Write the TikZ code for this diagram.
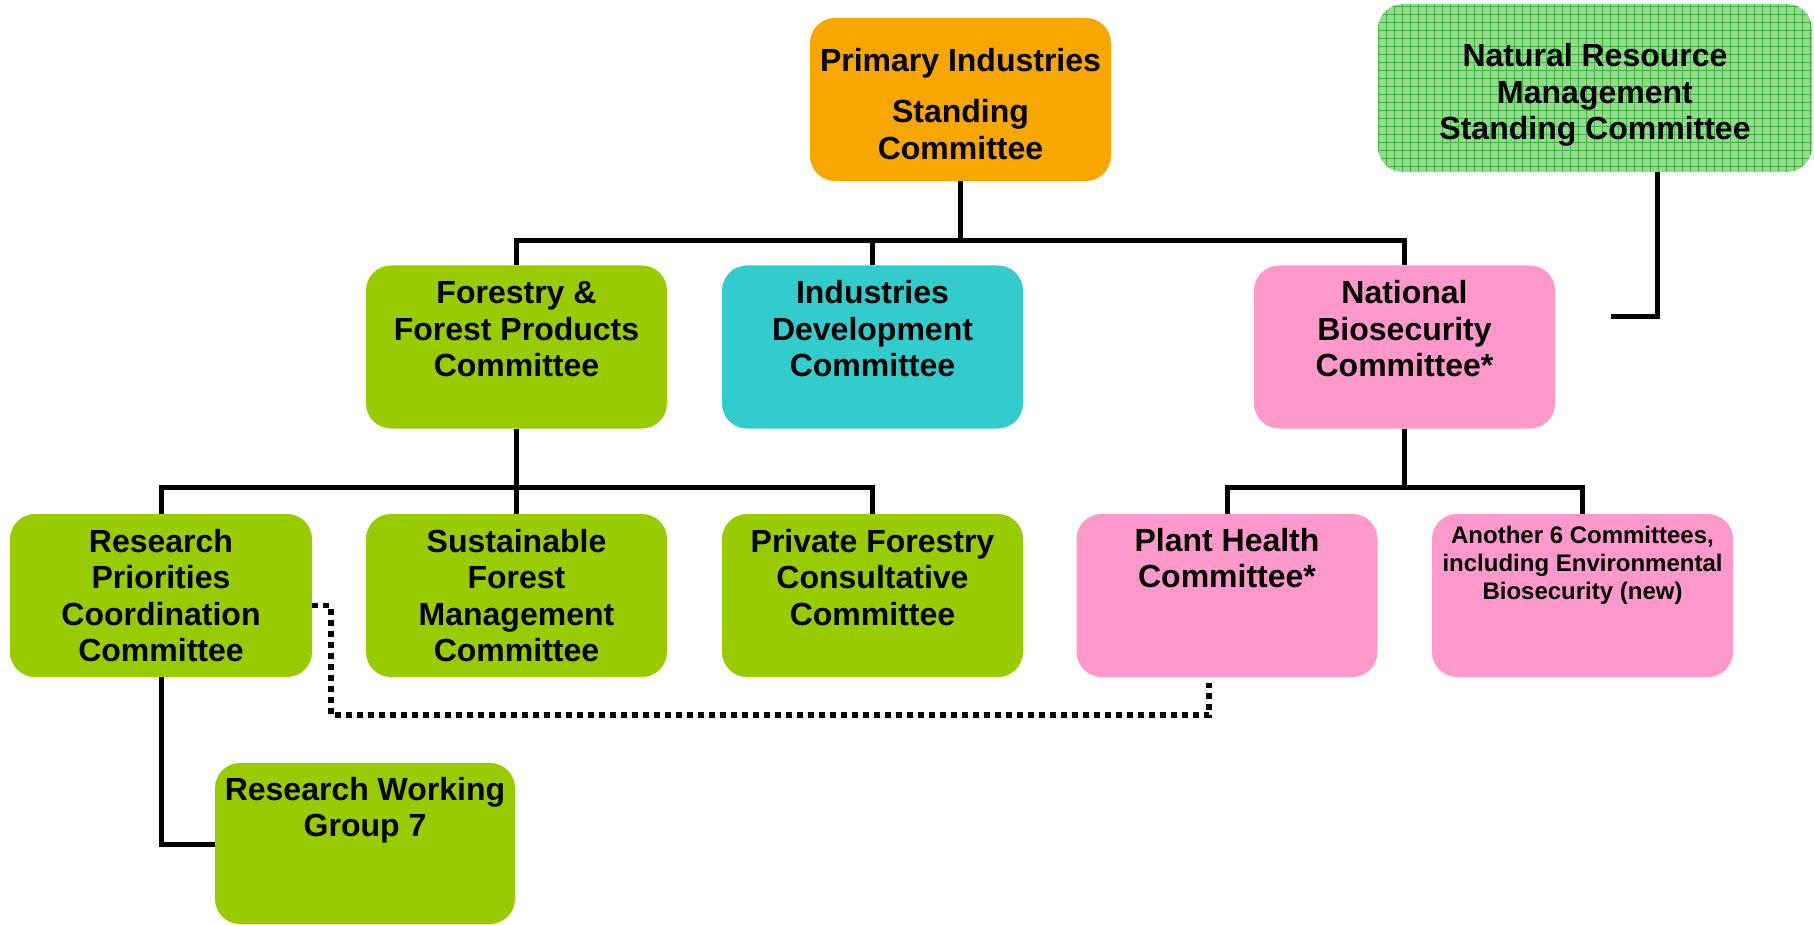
\documentclass[tikz,border=0pt]{standalone}
\usepackage{fontspec}
\setmainfont{Liberation Sans}
\definecolor{cOrange}{RGB}{248,166,0}
\definecolor{cGreen}{RGB}{153,204,0}
\definecolor{cTeal}{RGB}{51,204,204}
\definecolor{cPink}{RGB}{255,153,204}
\definecolor{cNrmFill}{RGB}{150,215,145}
\definecolor{cNrmGrid}{RGB}{60,180,60}
\newcommand{\boxtxt}[4]{\parbox[c][#1][t]{#2}{\centering\rule{0pt}{#3}#4}}
\tikzset{
  orgbox/.style={rounded corners=25pt, inner sep=0pt, outer sep=0pt, draw=none,
    font=\fontsize{32pt}{36.5pt}\selectfont\bfseries},
  smalltext/.style={font=\fontsize{24pt}{28pt}\selectfont\bfseries},
  conn/.style={line width=5pt, black},
  dotconn/.style={line width=5.5pt, black, dash pattern=on 6pt off 5pt},
  gridfill/.style={fill=cNrmFill, path picture={
      \draw[cNrmGrid, line width=0.8pt] (path picture bounding box.south west) grid[step=8pt] (path picture bounding box.north east);}}
}
\begin{document}
\begin{tikzpicture}[x=1pt,y=-1pt]
\useasboundingbox[fill=white] (0,0) rectangle (1814,925);
% nodes
\node[orgbox, fill=cOrange] (psc) at (960.5,99.5)
  {\boxtxt{163pt}{301pt}{54pt}{Primary Industries\\[14.5pt]Standing\\Committee}};
\node[orgbox, gridfill] (nrm) at (1595,88)
  {\boxtxt{168pt}{434pt}{63pt}{Natural Resource\\Management\\Standing Committee}};
\node[orgbox, fill=cGreen] (ffp) at (516.5,347)
  {\boxtxt{163pt}{301pt}{38pt}{Forestry \&\\Forest Products\\Committee}};
\node[orgbox, fill=cTeal] (idc) at (872.5,347)
  {\boxtxt{163pt}{301pt}{38pt}{Industries\\Development\\Committee}};
\node[orgbox, fill=cPink] (nbc) at (1404.5,347)
  {\boxtxt{163pt}{301pt}{38pt}{National\\Biosecurity\\Committee*}};
\node[orgbox, fill=cGreen] (rpc) at (161,595.5)
  {\boxtxt{163pt}{302pt}{38pt}{Research\\Priorities\\Coordination\\Committee}};
\node[orgbox, fill=cGreen] (sfm) at (516.5,595.5)
  {\boxtxt{163pt}{301pt}{38pt}{Sustainable\\Forest\\Management\\Committee}};
\node[orgbox, fill=cGreen] (pfc) at (872.5,595.5)
  {\boxtxt{163pt}{301pt}{38pt}{Private Forestry\\Consultative\\Committee}};
\node[orgbox, fill=cPink] (phc) at (1227,595.5)
  {\boxtxt{163pt}{301pt}{37pt}{Plant Health\\Committee*}};
\node[orgbox, smalltext, fill=cPink] (a6c) at (1582.5,595.5)
  {\boxtxt{163pt}{301pt}{29pt}{Another 6 Committees,\\including Environmental\\Biosecurity (new)}};
\node[orgbox, fill=cGreen] (rwg) at (365,843.5)
  {\boxtxt{161pt}{300pt}{37pt}{Research Working\\Group 7}};
% bus coordinates
\coordinate (b1) at (960.5,241);
\coordinate (b2) at (516.5,487);
\coordinate (b3) at (1404.5,487);
\coordinate (nrmend) at (1611,316);
\coordinate (rwgbend) at (161,844);
\coordinate (dotbot) at (331,715);
% connectors
\draw[conn] (psc.south) -- (b1);
\draw[conn] (ffp.north) |- (b1) -| (nbc.north);
\draw[conn] (idc.north) -- (idc.north |- b1);
\draw[conn] (ffp.south) -- (b2);
\draw[conn] (rpc.north) |- (b2) -| (pfc.north);
\draw[conn] (sfm.north) -- (b2);
\draw[conn] (nbc.south) -- (b3);
\draw[conn] (phc.north) |- (b3) -| (a6c.north);
\draw[conn] ([xshift=62pt]nrm.south) |- (nrmend);
\draw[conn] (rpc.south) |- (rwg.west |- rwgbend);
\draw[dotconn] ([yshift=-10pt]rpc.east) -| (dotbot) -| ([xshift=-18pt,yshift=-6pt]phc.south);
\end{tikzpicture}
\end{document}
